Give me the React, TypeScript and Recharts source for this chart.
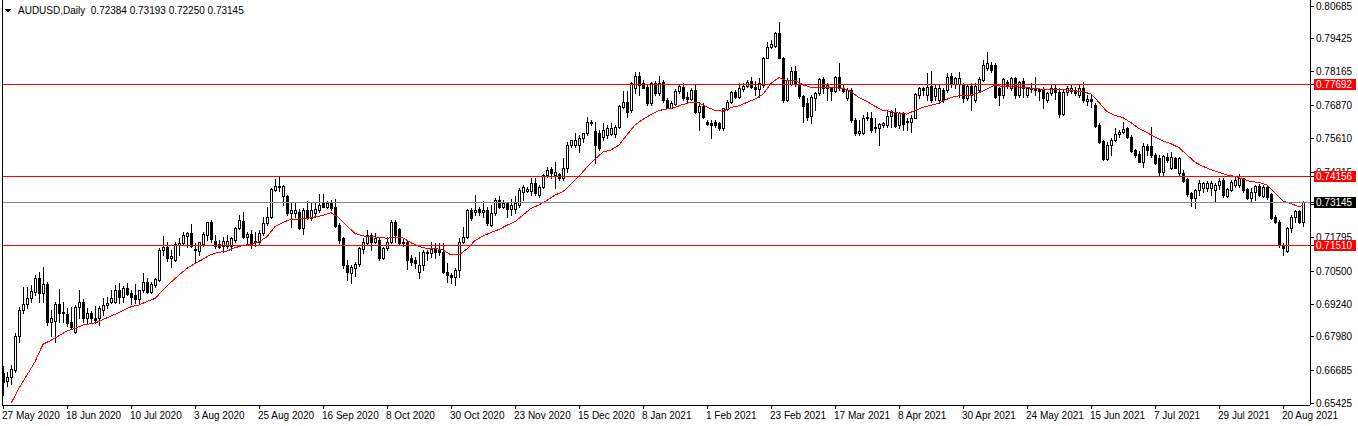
import { ComposedChart, Bar, Line, XAxis, YAxis, ReferenceLine } from "recharts";

// AUDUSD daily bars, 27 May 2020 .. 24 Aug 2021
const opens = [
  0.6658, 0.6629, 0.6643, 0.6671, 0.68, 0.6902, 0.6925, 0.6946, 0.6969, 0.7023,
  0.6966, 0.7, 0.6857, 0.6859, 0.6925, 0.6894, 0.6886, 0.6857, 0.6816, 0.6912,
  0.6932, 0.6872, 0.6891, 0.687, 0.687, 0.6902, 0.6921, 0.6934, 0.6934, 0.6978,
  0.6953, 0.6985, 0.6968, 0.6959, 0.6943, 0.6978, 0.701, 0.6972, 0.6998, 0.7017,
  0.7132, 0.7145, 0.71, 0.7092, 0.7151, 0.7158, 0.7187, 0.7196, 0.7136, 0.7128,
  0.7154, 0.719, 0.7238, 0.7167, 0.7154, 0.7146, 0.7147, 0.7149, 0.717, 0.7215,
  0.7243, 0.7183, 0.7193, 0.7164, 0.7164, 0.7196, 0.7234, 0.726, 0.7362, 0.7379,
  0.7339, 0.7339, 0.7273, 0.7273, 0.7279, 0.7215, 0.7286, 0.7254, 0.7273, 0.7286,
  0.7311, 0.7298, 0.7318, 0.7298, 0.7228, 0.7177, 0.7074, 0.7042, 0.7062, 0.7077,
  0.7135, 0.716, 0.719, 0.7164, 0.717, 0.71, 0.7138, 0.7164, 0.7241, 0.7211,
  0.7164, 0.7164, 0.71, 0.7094, 0.7049, 0.7074, 0.7119, 0.7119, 0.7136, 0.7136,
  0.7126, 0.7049, 0.7036, 0.703, 0.7055, 0.7164, 0.7183, 0.7286, 0.7279, 0.7288,
  0.7279, 0.7286, 0.7228, 0.7273, 0.7324, 0.7298, 0.7311, 0.7288, 0.7288, 0.7305,
  0.7356, 0.736, 0.7359, 0.7388, 0.7343, 0.7375, 0.742, 0.7443, 0.742, 0.7423,
  0.7407, 0.7448, 0.7535, 0.7535, 0.7535, 0.7561, 0.758, 0.7618, 0.7589, 0.758,
  0.7567, 0.7574, 0.7576, 0.7576, 0.7606, 0.7682, 0.7699, 0.767, 0.7755, 0.78,
  0.7772, 0.7759, 0.7695, 0.7772, 0.7734, 0.7778, 0.7708, 0.7679, 0.7691, 0.7742,
  0.7759, 0.7721, 0.7712, 0.7746, 0.7663, 0.7686, 0.7625, 0.7618, 0.7622, 0.7618,
  0.7599, 0.7673, 0.7699, 0.7737, 0.7721, 0.775, 0.7762, 0.7781, 0.7759, 0.775,
  0.7766, 0.787, 0.7913, 0.7917, 0.7964, 0.7871, 0.7708, 0.7768, 0.7819, 0.7768,
  0.7724, 0.7695, 0.7647, 0.7714, 0.7733, 0.7788, 0.7753, 0.7753, 0.7744, 0.7795,
  0.7755, 0.7714, 0.7746, 0.7631, 0.758, 0.758, 0.7637, 0.7638, 0.7602, 0.7602,
  0.7612, 0.7612, 0.7648, 0.7663, 0.7612, 0.7653, 0.7622, 0.7622, 0.764, 0.7727,
  0.7755, 0.7727, 0.7763, 0.7724, 0.7708, 0.7746, 0.7746, 0.7801, 0.7768, 0.7768,
  0.7768, 0.7714, 0.7763, 0.7708, 0.7746, 0.7785, 0.783, 0.7842, 0.7842, 0.7753,
  0.7727, 0.7778, 0.7755, 0.7794, 0.7727, 0.7781, 0.7727, 0.7749, 0.7755, 0.7749,
  0.7746, 0.7708, 0.7734, 0.7753, 0.774, 0.7653, 0.774, 0.7743, 0.7746, 0.7727,
  0.7755, 0.7704, 0.7712, 0.7689, 0.7612, 0.7551, 0.7481, 0.7535, 0.7554, 0.7576,
  0.7584, 0.7599, 0.7567, 0.7516, 0.7499, 0.7471, 0.7533, 0.7533, 0.7497, 0.7487,
  0.7433, 0.749, 0.7446, 0.7487, 0.7426, 0.7426, 0.7405, 0.735, 0.7333, 0.7362,
  0.7369, 0.7369, 0.7369, 0.7362, 0.7382, 0.7401, 0.7341, 0.7362, 0.7382, 0.7382,
  0.7407, 0.7366, 0.7333, 0.7353, 0.7379, 0.7341, 0.7375, 0.7346, 0.726, 0.7241,
  0.7151, 0.7128, 0.7215, 0.726, 0.7282, 0.72384,
];

const highs = [
  0.6687, 0.6665, 0.669, 0.6812, 0.6914, 0.6991, 0.6991, 0.6998, 0.7036, 0.7049,
  0.7068, 0.701, 0.6902, 0.6934, 0.6981, 0.6934, 0.6908, 0.6912, 0.6921, 0.6978,
  0.6943, 0.6908, 0.6898, 0.6917, 0.6917, 0.6949, 0.695, 0.6978, 0.6998, 0.7004,
  0.6994, 0.7004, 0.6978, 0.7001, 0.6978, 0.7042, 0.7023, 0.701, 0.7023, 0.7138,
  0.7186, 0.7164, 0.7132, 0.7164, 0.7177, 0.7202, 0.7202, 0.7231, 0.7158, 0.7164,
  0.7202, 0.7241, 0.7247, 0.719, 0.717, 0.7183, 0.719, 0.7183, 0.7222, 0.7266,
  0.7279, 0.7202, 0.7209, 0.7202, 0.7209, 0.726, 0.7298, 0.7369, 0.7403, 0.7414,
  0.7382, 0.7343, 0.7311, 0.7311, 0.7288, 0.7292, 0.7321, 0.7311, 0.7311, 0.7347,
  0.7346, 0.7321, 0.7324, 0.7328, 0.7234, 0.7183, 0.7094, 0.7074, 0.7087, 0.7145,
  0.7177, 0.7209, 0.7196, 0.7196, 0.7179, 0.7145, 0.7183, 0.7247, 0.7247, 0.7215,
  0.7177, 0.717, 0.7113, 0.7106, 0.7126, 0.7132, 0.7132, 0.7164, 0.7158, 0.716,
  0.7158, 0.7081, 0.7042, 0.7062, 0.7177, 0.7222, 0.7288, 0.7292, 0.7343, 0.7298,
  0.732, 0.7298, 0.7305, 0.733, 0.7339, 0.7324, 0.7311, 0.7326, 0.7339, 0.7369,
  0.7382, 0.7375, 0.7407, 0.7407, 0.7382, 0.7423, 0.7452, 0.7452, 0.7471, 0.7427,
  0.7484, 0.7548, 0.7554, 0.758, 0.7574, 0.7583, 0.7641, 0.7631, 0.7625, 0.7593,
  0.7618, 0.7612, 0.7618, 0.7612, 0.7689, 0.7743, 0.7743, 0.7778, 0.7817, 0.7817,
  0.7785, 0.7766, 0.7778, 0.7781, 0.7801, 0.7785, 0.7714, 0.7704, 0.775, 0.7768,
  0.7772, 0.774, 0.7755, 0.7766, 0.7699, 0.7695, 0.7631, 0.7631, 0.7631, 0.7622,
  0.7679, 0.7708, 0.7743, 0.7746, 0.7772, 0.7772, 0.7785, 0.7798, 0.7781, 0.7791,
  0.7874, 0.7932, 0.7938, 0.797, 0.8006, 0.7874, 0.7791, 0.7836, 0.784, 0.7791,
  0.7727, 0.7714, 0.7727, 0.774, 0.7791, 0.7797, 0.7772, 0.7759, 0.7801, 0.7849,
  0.7768, 0.7755, 0.7753, 0.7638, 0.7631, 0.765, 0.7663, 0.7663, 0.7638, 0.7618,
  0.7625, 0.7669, 0.7669, 0.7678, 0.7663, 0.7663, 0.7638, 0.765, 0.7733, 0.7759,
  0.7759, 0.781, 0.7819, 0.7766, 0.7766, 0.7753, 0.781, 0.781, 0.7797, 0.7817,
  0.7772, 0.7768, 0.7772, 0.7772, 0.7797, 0.7862, 0.7894, 0.7853, 0.7849, 0.7759,
  0.7791, 0.7785, 0.7797, 0.7797, 0.7781, 0.7791, 0.7759, 0.7772, 0.7797, 0.7753,
  0.7759, 0.774, 0.7766, 0.7766, 0.7753, 0.7746, 0.7763, 0.7766, 0.7759, 0.7766,
  0.7778, 0.7727, 0.7727, 0.7695, 0.7618, 0.7554, 0.7548, 0.7561, 0.7599, 0.7593,
  0.7625, 0.7606, 0.7574, 0.752, 0.7512, 0.7542, 0.7538, 0.7606, 0.7503, 0.7497,
  0.7497, 0.7503, 0.7507, 0.749, 0.749, 0.7439, 0.741, 0.7353, 0.7366, 0.7401,
  0.7394, 0.7397, 0.7397, 0.7388, 0.7407, 0.7407, 0.7369, 0.7401, 0.7414, 0.7423,
  0.741, 0.7369, 0.7369, 0.7382, 0.7384, 0.7382, 0.7382, 0.735, 0.7266, 0.7247,
  0.7158, 0.7222, 0.7266, 0.7286, 0.7286, 0.73193,
];

const lows = [
  0.6575, 0.6611, 0.6616, 0.6665, 0.678, 0.6889, 0.6908, 0.6934, 0.6959, 0.6934,
  0.6934, 0.6844, 0.6803, 0.678, 0.6857, 0.6857, 0.6841, 0.6831, 0.6812, 0.687,
  0.6857, 0.685, 0.685, 0.685, 0.6844, 0.6882, 0.6908, 0.6927, 0.6927, 0.6927,
  0.6934, 0.6959, 0.6925, 0.6927, 0.6927, 0.6972, 0.6966, 0.6966, 0.6991, 0.7013,
  0.7113, 0.709, 0.7068, 0.709, 0.7113, 0.7151, 0.7145, 0.7145, 0.7081, 0.7113,
  0.7147, 0.717, 0.7164, 0.7141, 0.7141, 0.7126, 0.7138, 0.7132, 0.7164, 0.7213,
  0.7177, 0.7151, 0.7141, 0.7149, 0.7151, 0.719, 0.7228, 0.7254, 0.736, 0.736,
  0.7305, 0.7266, 0.7222, 0.726, 0.7211, 0.7193, 0.725, 0.7247, 0.726, 0.7279,
  0.7296, 0.7292, 0.7286, 0.7222, 0.7158, 0.7062, 0.7017, 0.7007, 0.7032, 0.7071,
  0.7119, 0.7151, 0.7132, 0.7158, 0.7094, 0.7096, 0.7132, 0.716, 0.7164, 0.7155,
  0.7147, 0.7058, 0.7074, 0.7062, 0.7023, 0.7055, 0.7094, 0.7106, 0.71, 0.7113,
  0.7042, 0.701, 0.7004, 0.6998, 0.703, 0.7158, 0.7177, 0.7247, 0.7266, 0.7266,
  0.726, 0.7228, 0.7224, 0.7266, 0.7292, 0.7292, 0.726, 0.7266, 0.7273, 0.7298,
  0.7324, 0.7356, 0.7343, 0.7343, 0.7337, 0.7369, 0.7414, 0.7407, 0.7369, 0.7401,
  0.7401, 0.7433, 0.7529, 0.7529, 0.751, 0.7548, 0.7574, 0.7612, 0.7465, 0.7516,
  0.7554, 0.7561, 0.7574, 0.7567, 0.7599, 0.7676, 0.7644, 0.7663, 0.7734, 0.7727,
  0.7755, 0.7689, 0.7689, 0.7727, 0.7727, 0.7702, 0.7676, 0.7676, 0.7689, 0.7734,
  0.7708, 0.7695, 0.7708, 0.7657, 0.7593, 0.7638, 0.7612, 0.7563, 0.7606, 0.7593,
  0.7593, 0.767, 0.7695, 0.7714, 0.7714, 0.7743, 0.7759, 0.7755, 0.7727, 0.7721,
  0.7759, 0.7868, 0.7906, 0.7913, 0.7868, 0.7702, 0.7704, 0.7766, 0.7763, 0.7717,
  0.7625, 0.7631, 0.7618, 0.7669, 0.7727, 0.7733, 0.7708, 0.7708, 0.774, 0.7746,
  0.774, 0.7708, 0.7625, 0.7574, 0.7574, 0.7576, 0.7631, 0.7586, 0.7586, 0.7535,
  0.7606, 0.7606, 0.7606, 0.7606, 0.7599, 0.7593, 0.7593, 0.7584, 0.7638, 0.7714,
  0.7727, 0.7708, 0.7699, 0.7708, 0.7695, 0.7702, 0.774, 0.7759, 0.7753, 0.7721,
  0.7702, 0.7708, 0.7669, 0.7702, 0.774, 0.7781, 0.7823, 0.7817, 0.7714, 0.7689,
  0.7714, 0.7753, 0.7746, 0.7714, 0.7721, 0.7721, 0.7721, 0.774, 0.7727, 0.7708,
  0.7676, 0.7702, 0.7727, 0.7712, 0.7644, 0.765, 0.7727, 0.7734, 0.7727, 0.7721,
  0.7702, 0.7689, 0.7682, 0.7606, 0.7542, 0.7478, 0.7478, 0.7497, 0.7551, 0.7567,
  0.758, 0.7563, 0.751, 0.749, 0.7469, 0.7452, 0.7497, 0.749, 0.7461, 0.742,
  0.742, 0.7471, 0.7443, 0.7446, 0.742, 0.7394, 0.7341, 0.7302, 0.7292, 0.7343,
  0.7356, 0.7359, 0.7343, 0.732, 0.7366, 0.7337, 0.7337, 0.7359, 0.7375, 0.7375,
  0.7356, 0.7328, 0.7318, 0.7324, 0.7341, 0.7337, 0.7328, 0.7251, 0.7235, 0.7145,
  0.7113, 0.7126, 0.7202, 0.7241, 0.7234, 0.7225,
];

const closes = [
  0.6626, 0.6644, 0.6674, 0.68, 0.6902, 0.6925, 0.6946, 0.6975, 0.7023, 0.6966,
  0.7, 0.6857, 0.687, 0.6925, 0.6891, 0.6889, 0.6853, 0.6838, 0.6912, 0.6932,
  0.687, 0.6891, 0.687, 0.6863, 0.6908, 0.6921, 0.693, 0.6949, 0.6978, 0.695,
  0.6985, 0.6963, 0.695, 0.6943, 0.6978, 0.701, 0.6972, 0.7, 0.7019, 0.7132,
  0.7145, 0.71, 0.7109, 0.7154, 0.7158, 0.719, 0.7196, 0.7147, 0.7131, 0.7161,
  0.7192, 0.7238, 0.7174, 0.7147, 0.7145, 0.7167, 0.7168, 0.7177, 0.7218, 0.7247,
  0.7183, 0.7193, 0.7151, 0.7168, 0.7199, 0.7237, 0.726, 0.7366, 0.7379, 0.7373,
  0.7378, 0.7273, 0.7286, 0.7286, 0.7215, 0.7286, 0.7254, 0.7286, 0.7288, 0.7305,
  0.7298, 0.7314, 0.7292, 0.7224, 0.717, 0.7074, 0.7049, 0.7068, 0.7077, 0.7138,
  0.7164, 0.719, 0.7164, 0.7177, 0.71, 0.7138, 0.7164, 0.7241, 0.719, 0.7158,
  0.7158, 0.7094, 0.7087, 0.7081, 0.7074, 0.7126, 0.7126, 0.7136, 0.7126, 0.7126,
  0.7049, 0.7036, 0.703, 0.7055, 0.7164, 0.7183, 0.7286, 0.7254, 0.7286, 0.7279,
  0.7286, 0.7234, 0.7273, 0.7324, 0.7298, 0.7311, 0.7288, 0.7305, 0.7311, 0.7362,
  0.7375, 0.7366, 0.7388, 0.735, 0.7375, 0.742, 0.7439, 0.7426, 0.7433, 0.7407,
  0.7448, 0.7535, 0.7554, 0.7554, 0.7561, 0.758, 0.7622, 0.7625, 0.7535, 0.7522,
  0.7593, 0.7599, 0.7599, 0.7606, 0.7686, 0.7699, 0.7663, 0.7772, 0.78, 0.7766,
  0.7755, 0.7695, 0.7772, 0.7734, 0.7772, 0.7708, 0.7679, 0.7695, 0.7744, 0.7763,
  0.7717, 0.7712, 0.7746, 0.7663, 0.7686, 0.7644, 0.7616, 0.7612, 0.7612, 0.7599,
  0.7676, 0.7699, 0.774, 0.7721, 0.7753, 0.7762, 0.7778, 0.7759, 0.775, 0.7772,
  0.787, 0.7913, 0.7922, 0.7964, 0.7871, 0.7708, 0.7785, 0.7819, 0.7768, 0.7724,
  0.7685, 0.7644, 0.7721, 0.7733, 0.7788, 0.7753, 0.7766, 0.7744, 0.7795, 0.7753,
  0.7744, 0.7746, 0.7631, 0.758, 0.7589, 0.764, 0.7644, 0.7593, 0.7606, 0.7616,
  0.7618, 0.7648, 0.7663, 0.7608, 0.7657, 0.7614, 0.7627, 0.764, 0.773, 0.7755,
  0.7746, 0.7759, 0.7708, 0.7755, 0.7755, 0.7708, 0.7797, 0.7768, 0.7791, 0.7791,
  0.7714, 0.7763, 0.7727, 0.7763, 0.7788, 0.7842, 0.7849, 0.7823, 0.7721, 0.7727,
  0.7788, 0.7766, 0.7794, 0.7727, 0.7778, 0.7753, 0.7753, 0.7755, 0.7746, 0.7742,
  0.7714, 0.7733, 0.7753, 0.774, 0.7653, 0.774, 0.7753, 0.7753, 0.7734, 0.7755,
  0.7708, 0.7712, 0.7704, 0.7609, 0.7545, 0.7481, 0.7535, 0.7554, 0.7576, 0.7584,
  0.7597, 0.7567, 0.7512, 0.7497, 0.7471, 0.7533, 0.7516, 0.7497, 0.7465, 0.7433,
  0.7494, 0.7478, 0.749, 0.7448, 0.7487, 0.7397, 0.7346, 0.733, 0.7362, 0.7388,
  0.7388, 0.7388, 0.7388, 0.7382, 0.7397, 0.7343, 0.7366, 0.7394, 0.7401, 0.7407,
  0.7362, 0.7333, 0.7356, 0.7379, 0.7343, 0.7375, 0.7337, 0.7256, 0.7238, 0.7151,
  0.7141, 0.7218, 0.726, 0.7282, 0.7241, 0.73145,
];

// red moving average, read every 2nd bar starting at bar 2
const MA_START = 2;
const MA_STEP = 2;
const maValues = [
  0.6543, 0.6601, 0.6652, 0.6703, 0.677, 0.6785, 0.6803, 0.6821, 0.6831, 0.6844,
  0.6849, 0.6857, 0.6872, 0.6885, 0.69, 0.6914, 0.6921, 0.6934, 0.6946, 0.6978,
  0.7008, 0.7036, 0.7062, 0.708, 0.7097, 0.7115, 0.7123, 0.7128, 0.7141, 0.7149,
  0.7154, 0.7164, 0.7183, 0.7222, 0.7238, 0.725, 0.7251, 0.7254, 0.7259, 0.7265,
  0.7275, 0.7256, 0.7224, 0.7196, 0.7186, 0.7183, 0.7181, 0.7177, 0.7181, 0.7178,
  0.716, 0.7145, 0.7138, 0.7138, 0.7132, 0.7113, 0.7113, 0.7136, 0.7168, 0.7186,
  0.7199, 0.7211, 0.7227, 0.7241, 0.7266, 0.7292, 0.7305, 0.7323, 0.7343, 0.7356,
  0.7385, 0.7416, 0.745, 0.7481, 0.7508, 0.7516, 0.7535, 0.7574, 0.7612, 0.7634,
  0.7652, 0.7668, 0.7673, 0.768, 0.7691, 0.7699, 0.7697, 0.7681, 0.7668, 0.7665,
  0.7679, 0.7686, 0.7699, 0.7711, 0.773, 0.7772, 0.7794, 0.7781, 0.7784, 0.7766,
  0.7757, 0.7757, 0.7757, 0.7755, 0.7753, 0.774, 0.7717, 0.7702, 0.7684, 0.7668,
  0.7663, 0.7657, 0.7654, 0.7668, 0.768, 0.7688, 0.7696, 0.7711, 0.7722, 0.7726,
  0.7727, 0.7736, 0.775, 0.7766, 0.7759, 0.7759, 0.7758, 0.7755, 0.7752, 0.7749,
  0.775, 0.7749, 0.7746, 0.7743, 0.774, 0.7731, 0.7699, 0.7663, 0.7649, 0.764,
  0.7621, 0.7598, 0.7583, 0.7566, 0.7551, 0.754, 0.7525, 0.7497, 0.7469, 0.7453,
  0.744, 0.743, 0.742, 0.7415, 0.7405, 0.7394, 0.7392, 0.7382, 0.735, 0.732,
  0.731, 0.7298,
];
const maLast = 0.7305;

const xTickLabels = [
  "27 May 2020", "18 Jun 2020", "10 Jul 2020", "3 Aug 2020", "25 Aug 2020",
  "16 Sep 2020", "8 Oct 2020", "30 Oct 2020", "23 Nov 2020", "15 Dec 2020",
  "8 Jan 2021", "1 Feb 2021", "23 Feb 2021", "17 Mar 2021", "8 Apr 2021",
  "30 Apr 2021", "24 May 2021", "15 Jun 2021", "7 Jul 2021", "29 Jul 2021",
  "20 Aug 2021",
];
const X_TICK_STEP = 16;

const yTicks = [
  0.65425, 0.66685, 0.6798, 0.6924, 0.705, 0.71795, 0.73055, 0.74315,
  0.7561, 0.7687, 0.78165, 0.79425, 0.80685,
];

const levels = [0.77692, 0.74156, 0.7151];
const bidPrice = 0.73145;
const title = "AUDUSD,Daily  0.72384 0.73193 0.72250 0.73145";

const FONT = "'Liberation Sans', Arial, sans-serif";

const data = opens.map((open, i) => {
  let ma: number | null = null;
  if (i >= MA_START && (i - MA_START) % MA_STEP === 0) {
    ma = maValues[(i - MA_START) / MA_STEP] ?? null;
  }
  if (i === opens.length - 1) ma = maLast;
  return {
    i,
    open,
    high: highs[i],
    low: lows[i],
    close: closes[i],
    range: [lows[i], highs[i]],
    ma,
  };
});

const Candle = (props: any) => {
  const { x, y, width, height, payload } = props;
  if (!payload) return null;
  const { open, close, high, low } = payload;
  const cx = Math.round(x + width / 2);
  const k = high === low ? 0 : height / (high - low);
  const py = (v: number) => Math.round(y + (high - v) * k);
  const top = py(Math.max(open, close));
  const bot = py(Math.min(open, close));
  const up = close >= open;
  return (
    <g>
      <line x1={cx + 0.5} x2={cx + 0.5} y1={py(high)} y2={py(low) + 1} stroke="#000" strokeWidth={1} />
      {up ? (
        <rect x={cx - 0.5} y={top + 0.5} width={2} height={Math.max(bot - top, 0)} fill="#fff" stroke="#000" strokeWidth={1} />
      ) : (
        <rect x={cx - 1} y={top} width={3} height={Math.max(bot - top, 1) + 1} fill="#000" />
      )}
    </g>
  );
};

// level/bid values come last in the tick list, so their tags paint over the plain labels
const YTick = (props: any) => {
  const { x, y, payload } = props;
  const v = Number(payload.value);
  const isLevel = levels.includes(v);
  const isBid = v === bidPrice;
  if (isLevel || isBid) {
    const yy = Math.round(y);
    return (
      <g>
        <rect x={x - 2} y={yy - 5} width={42} height={11} fill={isBid ? "#000" : "#ff0000"} />
        <text x={x} y={yy} dy={4} textAnchor="start" fontFamily={FONT} fontSize={10} fill="#fff">
          {v.toFixed(5)}
        </text>
      </g>
    );
  }
  return (
    <text x={x} y={y} dy={3.5} textAnchor="start" fontFamily={FONT} fontSize={10} fill="#000">
      {v.toFixed(5)}
    </text>
  );
};

const XTick = (props: any) => {
  const { x, y, payload } = props;
  const label = xTickLabels[Math.round(payload.value / X_TICK_STEP)];
  return (
    <text x={x - 1} y={y} dy={9} textAnchor="start" fontFamily={FONT} fontSize={10} fill="#000">
      {label}
    </text>
  );
};

export default function App() {
  return (
    <div style={{ position: "absolute", left: 0, top: 0, width: 1358, height: 426, background: "#fff" }}>
      <ComposedChart
        width={1358}
        height={426}
        data={data}
        margin={{ top: 0, right: 0, left: 2, bottom: 0 }}
        style={{ shapeRendering: "crispEdges" }}
      >
        <XAxis
          dataKey="i"
          type="number"
          domain={[-0.25, 326.75]}
          ticks={xTickLabels.map((_, j) => j * X_TICK_STEP)}
          interval={0}
          height={21}
          tickSize={4}
          tickMargin={1}
          axisLine={{ stroke: "#000" }}
          tickLine={{ stroke: "#000" }}
          tick={<XTick />}
          allowDataOverflow
        />
        <YAxis
          orientation="right"
          type="number"
          width={48}
          domain={[0.65368, 0.8092]}
          ticks={[...yTicks, ...levels, bidPrice]}
          interval={0}
          tickSize={4}
          tickMargin={2}
          axisLine={{ stroke: "#000" }}
          tickLine={{ stroke: "#000" }}
          tick={<YTick />}
          allowDataOverflow
        />
        <Bar dataKey="range" barSize={4} shape={<Candle />} isAnimationActive={false} />
        <Line
          type="linear"
          dataKey="ma"
          stroke="#ff0000"
          strokeWidth={1}
          dot={false}
          activeDot={false}
          connectNulls
          isAnimationActive={false}
        />
        <ReferenceLine y={bidPrice} stroke="#778899" strokeWidth={1} />
        {levels.map((lv) => (
          <ReferenceLine key={lv} y={lv} stroke="#ff0000" strokeWidth={1} />
        ))}
      </ComposedChart>
      <svg
        width={1358}
        height={426}
        style={{ position: "absolute", left: 0, top: 0, pointerEvents: "none", shapeRendering: "crispEdges" }}
      >
        <line x1={2.5} x2={2.5} y1={0} y2={405} stroke="#000" />
        <path d="M5 9 L11 9 L8 13 Z" fill="#000" />
        <text x={18} y={14} fontFamily={FONT} fontSize={10} fill="#000" style={{ whiteSpace: "pre" }}>
          {title}
        </text>
      </svg>
    </div>
  );
}
